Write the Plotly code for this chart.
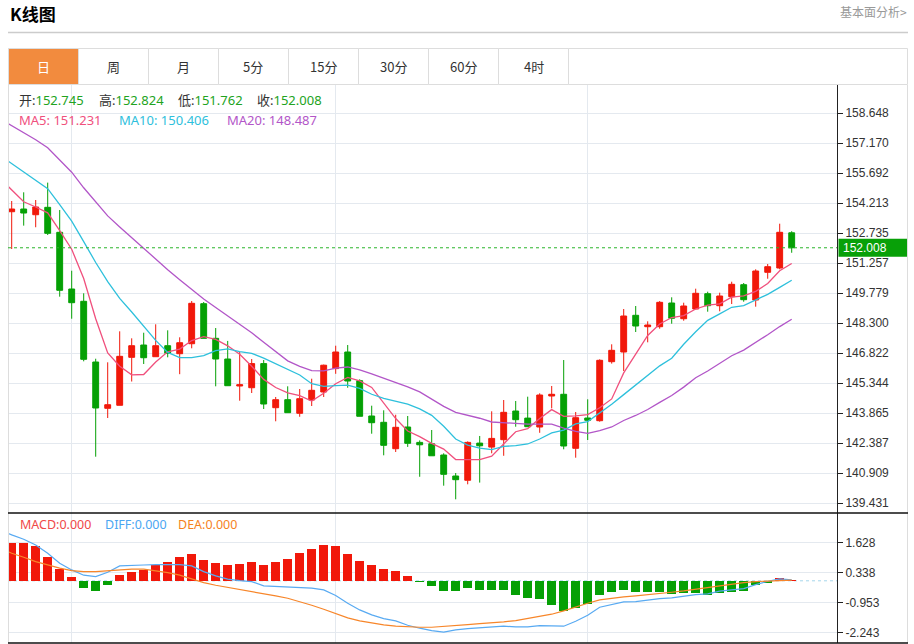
import pandas as pd
import plotly.graph_objects as go

# ---------------- data ----------------
opens = [153.784, 153.917, 153.636, 154.001, 152.770, 149.976, 149.370, 146.379, 144.098, 144.246,
         146.610, 147.216, 146.640, 147.182, 146.788, 147.280, 149.252, 147.546, 146.526, 145.196,
         145.112, 146.300, 144.128, 144.522, 143.852, 144.507, 144.901, 146.053, 146.872, 145.458,
         143.718, 143.408, 142.107, 143.176, 142.418, 142.349, 141.797, 140.762, 140.551, 142.383,
         142.186, 142.550, 143.964, 143.615, 143.176, 144.704, 144.788, 142.127, 143.620, 143.487,
         146.394, 146.872, 148.680, 148.118, 148.118, 149.286, 148.512, 148.991, 149.745, 149.153,
         149.597, 150.188, 149.434, 150.799, 151.011, 152.745]
highs = [154.312, 154.741, 154.361, 155.217, 153.868, 150.877, 149.764, 146.541, 146.364, 147.891,
         147.546, 147.822, 148.237, 147.940, 147.596, 149.384, 149.335, 148.053, 147.418, 146.871,
         146.526, 146.477, 144.655, 145.181, 145.049, 145.557, 146.251, 147.182, 147.216, 145.527,
         144.226, 143.999, 143.781, 143.718, 142.516, 143.028, 141.880, 140.910, 142.468, 142.734,
         143.950, 144.507, 144.458, 144.670, 144.837, 145.197, 146.477, 143.916, 144.541, 146.512,
         147.251, 148.991, 149.138, 148.384, 149.384, 149.567, 149.301, 149.991, 149.843, 149.794,
         150.336, 150.272, 150.947, 151.208, 153.194, 152.824]
lows = [151.947, 153.098, 153.019, 152.636, 149.598, 148.512, 146.413, 141.713, 143.620, 144.246,
        145.418, 146.280, 146.640, 146.610, 145.778, 147.054, 147.546, 145.181, 145.211, 144.472,
        144.852, 144.063, 143.458, 143.881, 143.680, 144.211, 144.655, 145.798, 145.112, 143.704,
        142.846, 141.782, 141.944, 142.195, 140.724, 141.758, 140.285, 139.613, 140.353, 140.437,
        141.880, 141.758, 143.191, 143.191, 142.890, 144.098, 142.077, 141.664, 142.536, 143.438,
        146.300, 145.936, 147.857, 147.349, 148.020, 148.266, 148.414, 148.991, 148.858, 148.877,
        149.236, 149.350, 149.105, 150.483, 150.947, 151.762]
closes = [153.917, 153.720, 154.016, 152.720, 149.912, 149.301, 146.512, 144.113, 144.275, 146.659,
          147.182, 146.590, 147.182, 146.807, 147.330, 149.271, 147.546, 146.526, 145.211, 145.260,
          146.300, 144.310, 144.522, 143.881, 144.571, 144.985, 146.221, 146.872, 145.443, 143.704,
          143.388, 142.274, 143.161, 142.373, 142.300, 141.758, 140.846, 140.580, 142.418, 142.250,
          142.615, 143.900, 143.536, 143.191, 144.753, 144.788, 142.240, 143.635, 143.506, 146.463,
          146.955, 148.646, 148.153, 148.202, 149.320, 148.532, 149.138, 149.764, 149.153, 149.631,
          150.208, 149.449, 150.863, 151.075, 152.770, 152.008]

# MA values for the bars before a full window exists (x = -1 .. )
ma5_head = [155.445, 154.854, 154.273, 154.016, 153.731]
ma10_head = [156.564, 156.160, 155.756, 155.357, 154.923, 154.135, 153.317, 152.312, 151.282, 150.341]
ma20_head = [158.372, 158.027, 157.677, 157.328, 156.938, 156.347, 155.731, 154.963, 154.253, 153.578,
             153.036, 152.499, 151.962, 151.430, 150.927, 150.434, 149.956, 149.483, 149.060, 148.641]
ma_legend = [151.231, 150.406, 148.487]

macd_hist = [1.643, 1.630, 1.501, 1.041, 0.499, 0.168, -0.292, -0.447, -0.163, 0.254,
             0.396, 0.482, 0.684, 0.813, 1.015, 1.170, 0.899, 0.757, 0.671, 0.740,
             0.813, 0.671, 0.813, 0.929, 1.200, 1.385, 1.557, 1.488, 1.157, 0.843,
             0.697, 0.499, 0.439, 0.211, -0.050, -0.233, -0.421, -0.421, -0.292, -0.391,
             -0.405, -0.405, -0.592, -0.750, -0.779, -1.023, -1.309, -1.151, -0.980, -0.592,
             -0.492, -0.377, -0.492, -0.492, -0.463, -0.564, -0.521, -0.521, -0.592, -0.506,
             -0.463, -0.421, -0.191, -0.076, 0.111, 0.020]
# DIFF / DEA from x = -1
diff = [2.200,
        1.974, 1.789, 1.544, 1.187, 0.757, 0.469, 0.241, 0.181, 0.370, 0.641,
        0.671, 0.680, 0.697, 0.705, 0.697, 0.641, 0.396, 0.211, 0.069, 0.009,
        -0.034, -0.219, -0.249, -0.277, -0.277, -0.318, -0.391, -0.635, -0.965, -1.252,
        -1.467, -1.625, -1.725, -1.910, -2.039, -2.142, -2.211, -2.112, -2.056, -2.026,
        -1.983, -1.953, -1.983, -1.983, -1.927, -1.940, -1.953, -1.738, -1.480, -1.136,
        -1.023, -0.908, -0.894, -0.822, -0.764, -0.736, -0.650, -0.592, -0.564, -0.447,
        -0.391, -0.334, -0.163, -0.019, 0.082, 0.039]
dea = [1.400,
       1.187, 1.015, 0.826, 0.684, 0.542, 0.439, 0.396, 0.396, 0.439, 0.482,
       0.499, 0.499, 0.439, 0.353, 0.241, 0.082, -0.076, -0.191, -0.277, -0.363,
       -0.447, -0.564, -0.650, -0.750, -0.894, -1.051, -1.222, -1.424, -1.596, -1.725,
       -1.824, -1.897, -1.953, -1.983, -1.997, -1.997, -1.968, -1.927, -1.884, -1.841,
       -1.811, -1.768, -1.712, -1.625, -1.540, -1.437, -1.295, -1.123, -0.965, -0.822,
       -0.750, -0.693, -0.650, -0.607, -0.549, -0.492, -0.434, -0.363, -0.277, -0.205,
       -0.134, -0.076, -0.033, -0.005, 0.025, 0.025]
macd_legend = ["MACD:0.000", "DIFF:0.000", "DEA:0.000"]

price_ticks = [139.431, 140.909, 142.387, 143.865, 145.344, 146.822, 148.300,
               149.779, 151.257, 152.735, 154.213, 155.692, 157.170, 158.648]
macd_ticks = [1.628, 0.338, -0.953, -2.243]
month_breaks = [5, 27, 48]
tabs = ["日", "周", "月", "5分", "15分", "30分", "60分", "4时"]

# ---------------- styling ----------------
W, H = 914, 644
RED, GREEN = "#f1180a", "#05a005"
PINK, CYAN, PURPLE = "#f0507d", "#2ec0dc", "#b256c8"
DIFFC, DEAC = "#58aaf2", "#f7862a"
GRID = "#e4e9ef"
TXT = "#333333"
FONT = "Noto Sans, Noto Sans CJK SC, sans-serif"
CJK = "Noto Sans CJK SC, sans-serif"
AXF = "Liberation Sans, Arial, sans-serif"


def px(x):
    return x / W


def py(y):
    return 1 - y / H


X0, X1 = 8, 837
Y_TOP, Y_SPLIT, Y_BOT = 85, 513, 643
PRICE_RANGE = [138.939, 160.028]
MACD_RANGE = [-2.675, 2.916]
XRANGE = [-0.308, 68.775]

n = len(closes)
xs = list(range(n))
xs_ma = list(range(-1, n))
cl = pd.Series(closes)
ma5 = ma5_head + cl.rolling(5).mean().iloc[4:].tolist()
ma10 = ma10_head + cl.rolling(10).mean().iloc[9:].tolist()
ma20 = ma20_head + cl.rolling(20).mean().iloc[19:].tolist()

fig = go.Figure()
fig.add_trace(go.Candlestick(
    x=xs, open=opens, high=highs, low=lows, close=closes,
    increasing=dict(line=dict(color=RED, width=1), fillcolor=RED),
    decreasing=dict(line=dict(color=GREEN, width=1), fillcolor=GREEN),
    whiskerwidth=0, hoverinfo="skip", xaxis="x", yaxis="y"))
for ys, c in [(ma5, PINK), (ma10, CYAN), (ma20, PURPLE)]:
    fig.add_trace(go.Scatter(x=xs_ma, y=ys, mode="lines", line=dict(color=c, width=1.3),
                             hoverinfo="skip", xaxis="x", yaxis="y"))

fig.add_trace(go.Bar(x=xs, y=macd_hist, width=0.75,
                     marker=dict(color=[RED if v >= 0 else GREEN for v in macd_hist], line=dict(width=0)),
                     hoverinfo="skip", xaxis="x2", yaxis="y2"))
fig.add_trace(go.Scatter(x=xs_ma, y=diff, mode="lines", line=dict(color=DIFFC, width=1.2),
                         hoverinfo="skip", xaxis="x2", yaxis="y2"))
fig.add_trace(go.Scatter(x=xs_ma, y=dea, mode="lines", line=dict(color=DEAC, width=1.2),
                         hoverinfo="skip", xaxis="x2", yaxis="y2"))

axis_x = dict(domain=[px(X0), px(X1)], range=XRANGE, tickvals=month_breaks, showticklabels=False,
              ticks="", showgrid=True, gridcolor=GRID, gridwidth=1, zeroline=False, showline=False,
              fixedrange=True)
tickfont = dict(family=AXF, size=12, color=TXT)
fig.update_layout(
    width=W, height=H, margin=dict(l=0, r=0, t=0, b=0),
    paper_bgcolor="white", plot_bgcolor="white", showlegend=False, bargap=0,
    boxgap=0.3,
    xaxis=dict(anchor="y", rangeslider=dict(visible=False), **axis_x),
    xaxis2=dict(anchor="y2", **axis_x),
    yaxis=dict(domain=[py(Y_SPLIT), py(Y_TOP)], range=PRICE_RANGE, side="right", anchor="x",
               tickvals=price_ticks, ticktext=[f"{v:.3f}" for v in price_ticks],
               ticks="outside", ticklen=5, tickcolor="#222", tickfont=tickfont,
               showline=True, linecolor="#222", linewidth=1, showgrid=True, gridcolor=GRID,
               zeroline=False, fixedrange=True),
    yaxis2=dict(domain=[py(Y_BOT), py(Y_SPLIT)], range=MACD_RANGE, side="right", anchor="x2",
                tickvals=macd_ticks, ticktext=[f"{v:.3f}" for v in macd_ticks],
                ticks="outside", ticklen=5, tickcolor="#222", tickfont=tickfont,
                showline=True, linecolor="#222", linewidth=1, showgrid=True, gridcolor=GRID,
                zeroline=False, fixedrange=True),
)

shapes = []
# header separator
shapes.append(dict(type="line", xref="paper", yref="paper", x0=px(8), x1=px(908), y0=py(32.5), y1=py(32.5),
                   line=dict(color="#cccccc", width=1.5)))
# tabs
for i in range(len(tabs)):
    shapes.append(dict(type="rect", xref="paper", yref="paper", x0=px(8.5 + 70 * i), x1=px(78.5 + 70 * i),
                       y0=py(84.5), y1=py(48.5), line=dict(color="#dddddd", width=1),
                       fillcolor="#f28b3e" if i == 0 else "white", layer="below"))
shapes.append(dict(type="rect", xref="paper", yref="paper", x0=px(568.5), x1=px(907.5),
                   y0=py(84.5), y1=py(48.5), line=dict(color="#dddddd", width=1), fillcolor="white", layer="below"))
# frame
shapes.append(dict(type="line", xref="paper", yref="paper", x0=px(8.5), x1=px(8.5), y0=py(85), y1=py(643),
                   line=dict(color="#dddddd", width=1)))
shapes.append(dict(type="line", xref="paper", yref="paper", x0=px(907.5), x1=px(907.5), y0=py(85), y1=py(643),
                   line=dict(color="#dddddd", width=1)))
for yy in (Y_SPLIT, Y_BOT):
    shapes.append(dict(type="line", xref="paper", yref="paper", x0=px(8), x1=px(908), y0=py(yy), y1=py(yy),
                       line=dict(color="#111111", width=1.3)))
# last price line and label box
last = closes[-1]
k = (PRICE_RANGE[1] - PRICE_RANGE[0]) / (Y_SPLIT - Y_TOP)
shapes.append(dict(type="line", xref="paper", yref="y", x0=px(X0), x1=px(X1), y0=last, y1=last,
                   line=dict(color="#2bb52b", width=1, dash="dot")))
shapes.append(dict(type="rect", xref="paper", yref="y", x0=px(838.5), x1=px(907), y0=last - 9 * k,
                   y1=last + 9 * k, fillcolor="#08a008", line=dict(width=0)))
# MACD zero line
shapes.append(dict(type="line", xref="paper", yref="y2", x0=px(X0), x1=px(X1), y0=0, y1=0,
                   line=dict(color="#a6d6ec", width=1, dash="3px,3px"), layer="below"))

ann = []
ann.append(dict(text="<b>K线图</b>", xref="paper", yref="paper", x=px(8), y=py(13), xanchor="left",
                yanchor="middle", showarrow=False, font=dict(family=CJK, size=17, color="#000")))
ann.append(dict(text="基本面分析&gt;", xref="paper", yref="paper", x=px(909), y=py(11.5), xanchor="right",
                yanchor="middle", showarrow=False, font=dict(family=CJK, size=12, color="#999")))
for i, t in enumerate(tabs):
    ann.append(dict(text=t, xref="paper", yref="paper", x=px(43.5 + 70 * i), y=py(66.5), xanchor="center",
                    yanchor="middle", showarrow=False,
                    font=dict(family=CJK, size=13, color="white" if i == 0 else TXT)))

VALG = "#21a321"
ohlc_labels = ["开", "高", "低", "收"]
ohlc_vals = [opens[-1], highs[-1], lows[-1], closes[-1]]
for lab, v, x in zip(ohlc_labels, ohlc_vals, [17, 97, 176, 255]):
    ann.append(dict(text=f"{lab}:<span style='color:{VALG}'>{v:.3f}</span>", xref="paper", yref="paper",
                    x=px(x), y=py(100.5), xanchor="left", yanchor="middle", showarrow=False,
                    font=dict(family=FONT, size=13, color=TXT)))
for name, v, x, c in zip(["MA5", "MA10", "MA20"], ma_legend, [17, 117, 225], [PINK, CYAN, PURPLE]):
    ann.append(dict(text=f"{name}: {v:.3f}", xref="paper", yref="paper", x=px(x), y=py(119.5),
                    xanchor="left", yanchor="middle", showarrow=False,
                    font=dict(family=FONT, size=13, color=c)))
for t, x, c in zip(macd_legend, [18, 103, 176], ["#f04848", "#4aa6f2", "#f5821e"]):
    ann.append(dict(text=t, xref="paper", yref="paper", x=px(x), y=py(524.5), xanchor="left",
                    yanchor="middle", showarrow=False, font=dict(family=FONT, size=12.5, color=c)))
ann.append(dict(text=f"{last:.3f}", xref="paper", yref="y", x=px(841), y=last, xanchor="left",
                yanchor="middle", showarrow=False, font=dict(family=AXF, size=12, color="white")))

fig.update_layout(shapes=shapes, annotations=ann)
fig.write_html("out.html", config=dict(displayModeBar=False, staticPlot=True),
               post_script="document.body.style.margin='0';document.body.style.overflow='hidden';")
